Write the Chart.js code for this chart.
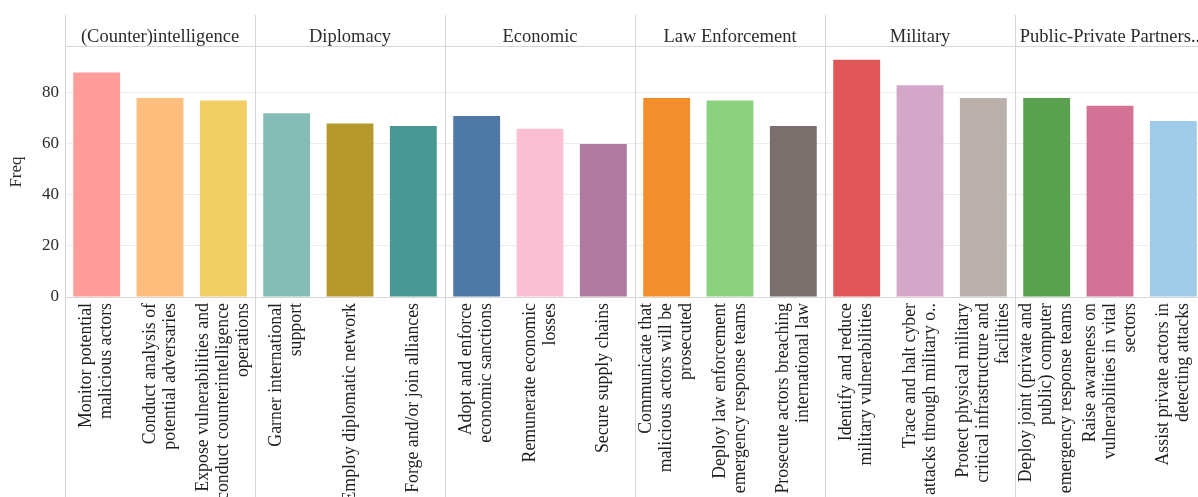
<!DOCTYPE html>
<html>
<head>
<meta charset="utf-8">
<script src="https://cdn.jsdelivr.net/npm/chart.js@4/dist/chart.umd.min.js"></script>
<style>
  html, body { margin: 0; padding: 0; background: #ffffff; overflow: hidden; }
  #wrap { width: 1205px; height: 497px; position: relative; }
</style>
</head>
<body>
<div id="wrap"><canvas id="c" width="1205" height="497"></canvas></div>
<script>
// ---- Data ----
const groups = ["(Counter)intelligence", "Diplomacy", "Economic", "Law Enforcement", "Military", "Public-Private Partners.."];
const groupSizes = [3, 3, 3, 3, 3, 3];
const categories = [
  ["Monitor potential", "malicious actors"],
  ["Conduct analysis of", "potential adversaries"],
  ["Expose vulnerabilities and", "conduct counterintelligence", "operations"],
  ["Garner international", "support"],
  ["Employ diplomatic network"],
  ["Forge and/or join alliances"],
  ["Adopt and enforce", "economic sanctions"],
  ["Remunerate economic", "losses"],
  ["Secure supply chains"],
  ["Communicate that", "malicious actors will be", "prosecuted"],
  ["Deploy law enforcement", "emergency response teams"],
  ["Prosecute actors breaching", "international law"],
  ["Identify and reduce", "military vulnerabilities"],
  ["Trace and halt cyber", "attacks through military o.."],
  ["Protect physical military", "critical infrastructure and", "facilities"],
  ["Deploy joint (private and", "public) computer", "emergency response teams"],
  ["Raise awareness on", "vulnerabilities in vital", "sectors"],
  ["Assist private actors in", "detecting attacks"]
];
const freq = [88, 78, 77, 72, 68, 67, 71, 66, 60, 78, 77, 67, 93, 83, 78, 78, 75, 69];
const barColors = ["#FF9D9A", "#FFBE7D", "#F1CE63", "#86BCB6", "#B6992D", "#499894",
                   "#4E79A7", "#FABFD2", "#B07AA1", "#F28E2B", "#8CD17D", "#79706E",
                   "#E15759", "#D4A6C8", "#BAB0AC", "#59A14F", "#D37295", "#A0CBE8"];
const yTicks = [0, 20, 40, 60, 80];

// ---- Styles ----
const SERIF = "'Liberation Serif', 'DejaVu Serif', serif";
const TEXT = "#2b2b2b";
const DIVIDER = "#d6d6d6";

const panelPlugin = {
  id: 'panels',
  afterDraw(chart) {
    const ctx = chart.ctx;
    const xs = chart.scales.x;
    const area = chart.chartArea;
    const n = categories.length;
    const band = (area.right - area.left) / n;
    ctx.save();
    ctx.strokeStyle = DIVIDER;
    ctx.lineWidth = 1;
    // bottom axis line
    ctx.beginPath();
    ctx.moveTo(area.left, Math.round(area.bottom) + 0.5);
    ctx.lineTo(area.right, Math.round(area.bottom) + 0.5);
    ctx.stroke();
    // header line
    ctx.beginPath();
    ctx.moveTo(area.left, Math.round(area.top) - 0.5);
    ctx.lineTo(area.right, Math.round(area.top) - 0.5);
    ctx.stroke();
    // dividers + headers
    let idx = 0;
    for (let g = 0; g < groups.length; g++) {
      const x0 = xs.getPixelForValue(idx) - band / 2;
      const x1 = xs.getPixelForValue(idx + groupSizes[g] - 1) + band / 2;
      ctx.strokeStyle = DIVIDER;
      ctx.beginPath();
      ctx.moveTo(Math.round(x0) + 0.5, 15);
      ctx.lineTo(Math.round(x0) + 0.5, 497);
      ctx.stroke();
      ctx.fillStyle = TEXT;
      ctx.font = "18.5px " + SERIF;
      ctx.textAlign = 'center';
      ctx.textBaseline = 'middle';
      ctx.fillText(groups[g], (x0 + x1) / 2, 37);
      idx += groupSizes[g];
    }
    // rotated category labels
    ctx.font = "17.8px " + SERIF;
    ctx.fillStyle = "#1e1e1e";
    const lh = 20;
    for (let i = 0; i < n; i++) {
      const cx = xs.getPixelForValue(i);
      const lines = categories[i];
      for (let k = 0; k < lines.length; k++) {
        const lx = cx + (k - (lines.length - 1) / 2) * lh;
        ctx.save();
        ctx.translate(lx, area.bottom + 6);
        ctx.rotate(-Math.PI / 2);
        ctx.textAlign = 'right';
        ctx.textBaseline = 'middle';
        ctx.fillText(lines[k], 0, 0);
        ctx.restore();
      }
    }
    ctx.restore();
  }
};

new Chart(document.getElementById('c'), {
  type: 'bar',
  data: {
    labels: categories,
    datasets: [{
      label: 'Freq',
      data: freq,
      backgroundColor: barColors,
      borderWidth: 0,
      barPercentage: 0.74,
      categoryPercentage: 1.0
    }]
  },
  options: {
    responsive: false,
    animation: false,
    layout: { padding: { top: 47, bottom: 200, left: 0, right: 0 } },
    plugins: { legend: { display: false }, tooltip: { enabled: false } },
    scales: {
      x: { display: false },
      y: {
        min: 0, max: 98,
        afterFit(s) { s.width = 65; },
        afterBuildTicks(s) { s.ticks = yTicks.map(v => ({ value: v })); },
        border: { display: false },
        grid: { color: '#ededed', drawTicks: false },
        ticks: { padding: 6, color: TEXT, font: { family: SERIF, size: 17 } },
        title: { display: true, text: 'Freq', color: TEXT, font: { family: SERIF, size: 17 }, padding: { top: 6, bottom: 0 } }
      }
    }
  },
  plugins: [panelPlugin]
});
</script>
</body>
</html>
